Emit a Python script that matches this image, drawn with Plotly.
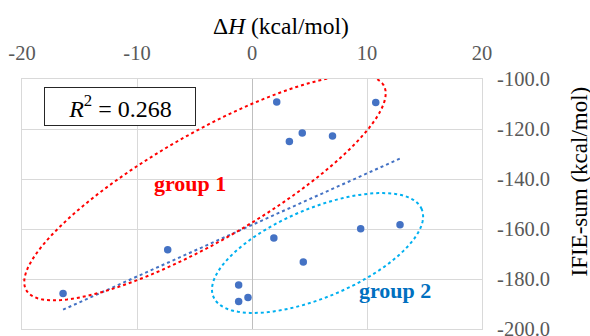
import numpy as np
import plotly.graph_objects as go

# ---- data ----
dH = [2.15, 3.25, 4.37, 7.0, 10.76, -7.33, -16.43, 1.9, -1.16, -1.16, -0.35, 4.46, 9.45, 12.87]
ifie = [-109.2, -125.0, -121.6, -122.8, -109.4, -168.3, -185.8, -163.6, -182.4, -189.0, -187.4, -173.2, -159.9, -158.3]
x_ticks = [-20, -10, 0, 10, 20]
y_ticks = [-200, -180, -160, -140, -120, -100]
r2_label = "<i>R</i><sup>2</sup> = 0.268"

# ---- layout geometry ----
W, H = 590, 336
L, R, T, B = 22, 108, 79, 7
pw, ph = W - L - R, H - T - B
xr = [-20, 20]
yr = [-200, -100]
sx = pw / (xr[1] - xr[0])
sy = ph / (yr[1] - yr[0])

FONT = "Liberation Serif"

# linear trend via numpy
xa = np.array(dH); ya = np.array(ifie)
m, c = np.polyfit(xa, ya, 1)
xt = np.array([xa.min(), xa.max()])
yt = m * xt + c

def ellipse_path(cx, cy, a_px, b_px, ang_deg, n=120):
    t = np.linspace(0, 2 * np.pi, n)
    th = np.radians(ang_deg)
    dx = a_px * np.cos(t) * np.cos(th) - b_px * np.sin(t) * np.sin(th)
    dy = a_px * np.cos(t) * np.sin(th) + b_px * np.sin(t) * np.cos(th)
    xs = cx + dx / sx
    ys = cy + dy / sy
    p = "M %f,%f " % (xs[0], ys[0]) + " ".join("L %f,%f" % (u, v) for u, v in zip(xs[1:], ys[1:])) + " Z"
    return p

fig = go.Figure()
fig.add_trace(go.Scatter(x=xt, y=yt, mode="lines",
                         line=dict(color="#4472C4", width=2, dash="dot"),
                         hoverinfo="skip", showlegend=False))
fig.add_trace(go.Scatter(x=dH, y=ifie, mode="markers",
                         marker=dict(color="#4472C4", size=7.5),
                         showlegend=False))

shapes = [
    dict(type="path", xref="x", yref="y",
         path=ellipse_path(-4.09, -143.5, 206, 54, 29.8),
         line=dict(color="#FF0000", width=2, dash="dot")),
    dict(type="path", xref="x", yref="y",
         path=ellipse_path(5.70, -169.6, 113, 44.4, 22.8),
         line=dict(color="#00B0F0", width=2, dash="dot")),
]

def px2paper(px, py):
    return (px - L) / pw, (H - B - py) / ph

def add_text(text, px, py, size, color, angle=0, **kw):
    ax_, ay_ = px2paper(px, py)
    d = dict(text=text, x=ax_, y=ay_, xref="paper", yref="paper",
             xanchor="center", yanchor="middle", showarrow=False, textangle=angle,
             font=dict(family=FONT, size=size, color=color))
    d.update(kw)
    return d

ann = [
    add_text("Δ<i>H</i> (kcal/mol)", 281, 26, 23.5, "#000000"),
    add_text("IFIE-sum (kcal/mol)", 578.5, 182, 23, "#000000", angle=-90),
    add_text(r2_label, 120, 106.3, 24, "#000000", width=148, height=35,
             bordercolor="#262626", borderwidth=1, borderpad=1, bgcolor="white"),
    add_text("<b>group 1</b>", 190, 183, 22, "#FF0000"),
    add_text("<b>group 2</b>", 395, 290, 22, "#0070C0"),
]

fig.update_layout(
    width=W, height=H,
    margin=dict(l=L, r=R, t=T, b=B, pad=0, autoexpand=False),
    paper_bgcolor="white", plot_bgcolor="white",
    font=dict(family=FONT),
    shapes=shapes, annotations=ann,
    xaxis=dict(range=xr, side="top", tickvals=x_ticks, ticktext=[str(v) for v in x_ticks],
               automargin=False, ticklabeloverflow="allow",
               showgrid=True, gridcolor="#D9D9D9", gridwidth=1,
               zeroline=True, zerolinecolor="#BFBFBF", zerolinewidth=1,
               showline=True, linecolor="#D9D9D9", mirror=True,
               ticks="", ticklabelstandoff=10,
               tickfont=dict(family=FONT, size=20.5, color="#595959")),
    yaxis=dict(range=yr, side="right", tickvals=y_ticks, ticktext=["%.1f" % v for v in y_ticks],
               automargin=False, ticklabeloverflow="allow",
               showgrid=True, gridcolor="#D9D9D9", gridwidth=1, zeroline=False,
               showline=True, linecolor="#D9D9D9", mirror=True,
               ticks="", ticklabelstandoff=10,
               tickfont=dict(family=FONT, size=20.5, color="#595959")),
)

fig.write_html("out.html", config={"displayModeBar": False},
               post_script="document.body.style.margin='0';")
